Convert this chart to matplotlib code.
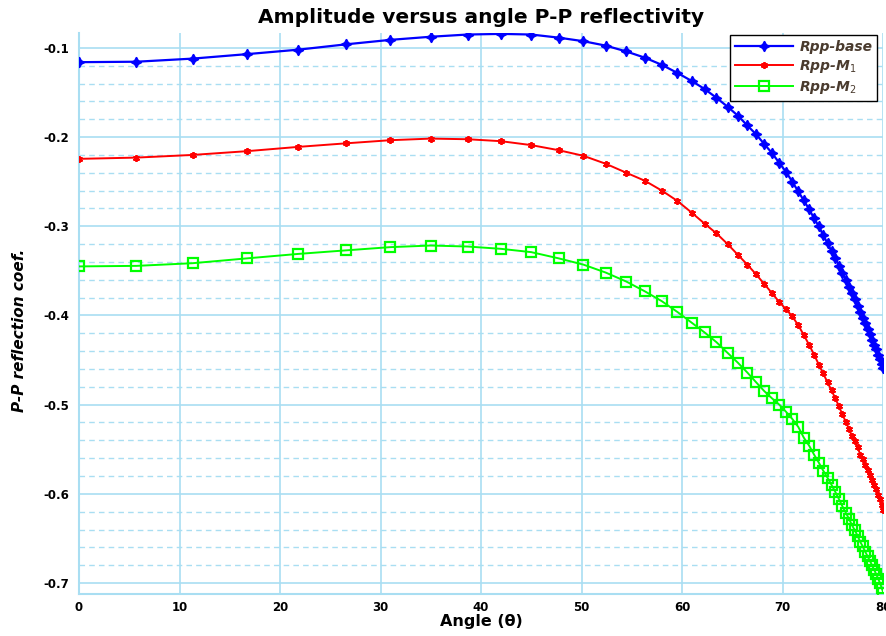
import matplotlib
matplotlib.use("Agg")
import matplotlib.pyplot as plt
from matplotlib.ticker import MultipleLocator

plt.rcParams["font.family"] = ["DejaVu Sans"]
plt.rcParams["axes.unicode_minus"] = False

# incidence angles (deg)
angle = [
    0.0, 5.71, 11.31, 16.70, 21.80, 26.57, 30.96, 34.99, 38.66, 41.99,
    45.00, 47.73, 50.19, 52.43, 54.46, 56.31, 57.99, 59.53, 60.95, 62.24,
    63.43, 64.54, 65.56, 66.50, 67.38, 68.20, 68.96, 69.68, 70.35, 70.97,
    71.57, 72.12, 72.65, 73.14, 73.61, 74.05, 74.48, 74.88, 75.26, 75.62,
    75.96, 76.29, 76.61, 76.91, 77.20, 77.47, 77.74, 77.99, 78.23, 78.47,
    78.69, 78.91, 79.11, 79.32, 79.51, 79.70, 79.88, 80.04,
]

rpp_base = [
    -0.116, -0.1155, -0.112, -0.107, -0.102, -0.096, -0.091, -0.0875, -0.085, -0.0843,
    -0.085, -0.0885, -0.0925, -0.0975, -0.104, -0.111, -0.119, -0.128, -0.137, -0.146,
    -0.156, -0.166, -0.176, -0.187, -0.197, -0.208, -0.218, -0.229, -0.239, -0.250,
    -0.261, -0.271, -0.281, -0.291, -0.300, -0.310, -0.319, -0.328, -0.336, -0.344,
    -0.352, -0.360, -0.368, -0.375, -0.382, -0.389, -0.396, -0.403, -0.409, -0.415,
    -0.421, -0.427, -0.433, -0.438, -0.444, -0.449, -0.454, -0.459,
]

rpp_m1 = [
    -0.2244, -0.223, -0.220, -0.2158, -0.211, -0.207, -0.2035, -0.2017, -0.2024, -0.2046,
    -0.209, -0.2147, -0.221, -0.230, -0.240, -0.249, -0.260, -0.2715, -0.2846, -0.297,
    -0.308, -0.320, -0.332, -0.343, -0.354, -0.365, -0.375, -0.385, -0.393, -0.401,
    -0.411, -0.422, -0.433, -0.444, -0.455, -0.465, -0.475, -0.484, -0.493, -0.502,
    -0.511, -0.519, -0.527, -0.535, -0.541, -0.548, -0.556, -0.561, -0.568, -0.573,
    -0.579, -0.584, -0.590, -0.595, -0.601, -0.606, -0.613, -0.618,
]

rpp_m2 = [
    -0.345, -0.3444, -0.3414, -0.336, -0.331, -0.327, -0.3234, -0.3216, -0.3227, -0.3253,
    -0.329, -0.336, -0.343, -0.352, -0.362, -0.373, -0.384, -0.396, -0.408, -0.419,
    -0.430, -0.442, -0.453, -0.464, -0.475, -0.485, -0.493, -0.500, -0.508, -0.516,
    -0.525, -0.537, -0.546, -0.556, -0.565, -0.574, -0.582, -0.590, -0.598, -0.606,
    -0.614, -0.621, -0.628, -0.635, -0.641, -0.647, -0.654, -0.659, -0.665, -0.670,
    -0.675, -0.680, -0.685, -0.690, -0.695, -0.700, -0.706, -0.711,
]

labels = ["Rpp-base", "Rpp-M$_1$", "Rpp-M$_2$"]

grid_col = "#a9def2"

fig = plt.figure(figsize=(8.87, 6.36), dpi=100)
ax = fig.add_axes([0.0891, 0.0655, 0.9064, 0.8826])

ax.plot(angle, rpp_base, color="#0000ff", lw=1.6, marker=(4, 1, 0),
        ms=7.5, mec="#0000ff", mfc="#0000ff", label=labels[0], zorder=3)
ax.plot(angle, rpp_m1, color="#ff0000", lw=1.4, marker=(6, 2, 0),
        ms=5, mew=1.3, label=labels[1], zorder=3)
ax.plot(angle, rpp_m2, color="#00ff00", lw=1.4, marker="s",
        ms=6.5, mew=1.6, mfc="none", mec="#00ff00", label=labels[2], zorder=3)

ax.set_xlim(0, 80)
ax.set_ylim(-0.7127, -0.0833)
ax.set_xticks(range(0, 81, 10))
ax.set_yticks([-0.7, -0.6, -0.5, -0.4, -0.3, -0.2, -0.1])
ax.yaxis.set_minor_locator(MultipleLocator(0.02))

ax.grid(True, which="major", color=grid_col, lw=1.2, ls="-")
ax.grid(True, which="minor", axis="y", color=grid_col, lw=1.0, ls=(0, (4, 3)))
ax.set_axisbelow(True)

for side in ("top", "right"):
    ax.spines[side].set_visible(False)
for side in ("left", "bottom"):
    ax.spines[side].set_color(grid_col)
    ax.spines[side].set_linewidth(1.5)

ax.tick_params(which="both", length=0, labelsize=8.5)
ax.tick_params(axis="x", pad=5)
ax.tick_params(axis="y", pad=7)
for lab in ax.get_xticklabels() + ax.get_yticklabels():
    lab.set_fontweight("bold")

ax.set_title("Amplitude versus angle P-P reflectivity", fontsize=14.5,
             fontweight="bold", pad=7)
ax.set_xlabel("Angle (\u03b8)", fontsize=11.5, fontweight="bold", labelpad=0)
ax.set_ylabel("P-P reflection coef.", fontsize=11, fontstyle="italic",
              fontweight="bold")
ax.yaxis.set_label_coords(-0.0647, 0.47)

leg = ax.legend(loc="upper left", bbox_to_anchor=(0.8097, 0.9964), numpoints=1,
                borderaxespad=0, handlelength=4.2, handletextpad=0.45,
                fancybox=False, framealpha=1, edgecolor="black",
                borderpad=0.35, labelspacing=0.3,
                prop={"size": 10, "style": "italic", "weight": "bold"})
leg.get_frame().set_linewidth(1.0)
for t in leg.get_texts():
    t.set_color("#4a3b2e")

fig.savefig("out.png", dpi=100)
plt.close(fig)
